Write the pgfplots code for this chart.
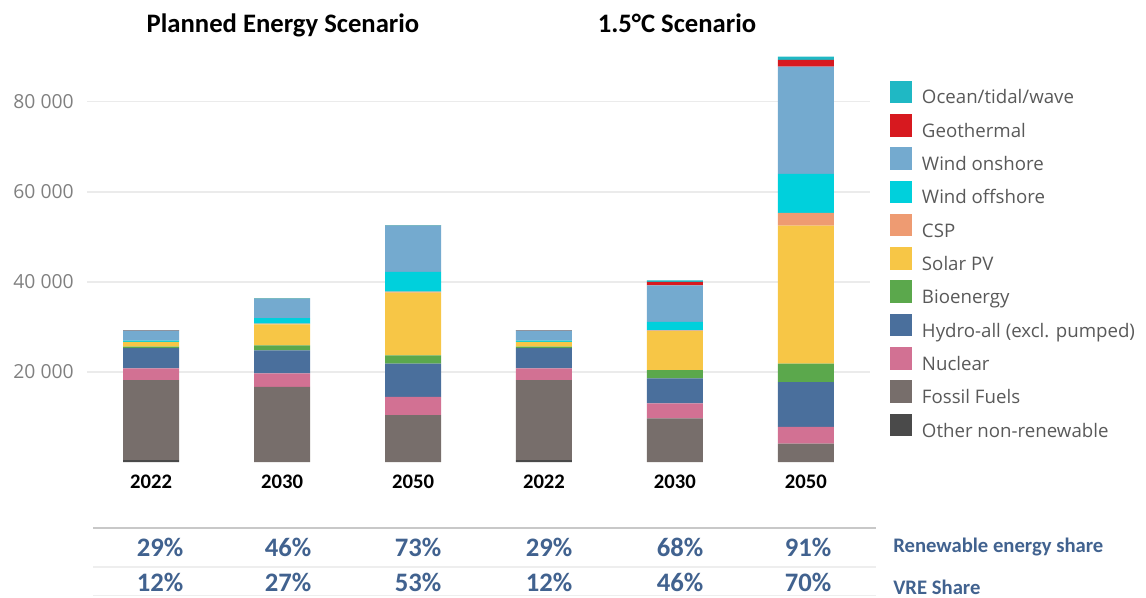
\documentclass[border=0pt]{standalone}
\usepackage{pgfplots}
\pgfplotsset{compat=1.18}
\usepackage{pgfplotstable}
\usepackage{fontspec}
\setmainfont{Open Sans}
\newfontfamily\carlito{Carlito}

\definecolor{cocean}{HTML}{1FB8C4}
\definecolor{cgeo}{HTML}{D7191F}
\definecolor{conshore}{HTML}{74AACF}
\definecolor{coffshore}{HTML}{00D0DC}
\definecolor{ccsp}{HTML}{EE9B72}
\definecolor{csolar}{HTML}{F7C646}
\definecolor{cbio}{HTML}{5BA84C}
\definecolor{chydro}{HTML}{4A6F9C}
\definecolor{cnuclear}{HTML}{D27193}
\definecolor{cfossil}{HTML}{776E6B}
\definecolor{cother}{HTML}{4A4A4A}
\definecolor{gridgray}{HTML}{EBEBEB}
\definecolor{tickgray}{HTML}{808080}
\definecolor{legtext}{HTML}{595959}
\definecolor{pctblue}{HTML}{41628F}
\definecolor{linegray}{HTML}{C8C8C8}
\definecolor{faintgray}{HTML}{EEEEEE}

\pgfplotstableread{
x other fossil nuclear hydro bio solar csp offshore onshore geo ocean
0 400 17800 2600 4500 300 1050 0 300 2150 50 150
1 0 16700 2950 5150 1100 4650 150 1250 4200 50 100
2 0 10400 4050 7400 1850 13900 200 4400 10200 50 100
3 400 17800 2600 4500 300 1050 0 300 2150 50 150
4 0 9700 3300 5550 1850 8650 200 1850 8100 800 300
5 0 4100 3700 9950 4100 30650 2800 8650 23850 1500 700
}\energydata

\newcommand{\legrow}[3]{%
  \fill[#2] (889.5,{516.3-33.3*#1}) rectangle (912.3,{493.7-33.3*#1});
  \node[anchor=base west, inner sep=0pt, text=legtext, font=\fontsize{14}{16}\selectfont] at (921.7,{493-33.3*#1}) {#3};}

\begin{document}
\begin{tikzpicture}
\begin{scope}[x=0.75pt,y=0.75pt]
\useasboundingbox (0,0) rectangle (1146,597);
\end{scope}
\begin{axis}[
  at={(65.25pt,101.25pt)}, anchor=south west,
  scale only axis, width=587.25pt, height=310.8pt,
  xmin=-0.49, xmax=5.49, ymin=0, ymax=92000,
  ybar stacked, bar width=42pt,
  axis line style={draw=none}, major tick length=0pt,
  scaled y ticks=false,
  ymajorgrids, grid style={color=gridgray, line width=1.2pt},
  ytick={20000,40000,60000,80000},
  yticklabels={20 000,40 000,60 000,80 000},
  yticklabel style={anchor=east, inner sep=0pt, xshift=-9.75pt, text=tickgray, font=\fontsize{14.5}{16}\selectfont},
  xtick={0,1,2,3,4,5},
  xticklabels={2022,2030,2050,2022,2030,2050},
  xticklabel style={anchor=base, inner sep=0pt, yshift=-19.5pt, font=\carlito\bfseries\fontsize{15.5}{18}\selectfont},
  every axis plot/.append style={draw=none},
]
\addplot[fill=cother] table[x=x,y=other]{\energydata};
\addplot[fill=cfossil] table[x=x,y=fossil]{\energydata};
\addplot[fill=cnuclear] table[x=x,y=nuclear]{\energydata};
\addplot[fill=chydro] table[x=x,y=hydro]{\energydata};
\addplot[fill=cbio] table[x=x,y=bio]{\energydata};
\addplot[fill=csolar] table[x=x,y=solar]{\energydata};
\addplot[fill=ccsp] table[x=x,y=csp]{\energydata};
\addplot[fill=coffshore] table[x=x,y=offshore]{\energydata};
\addplot[fill=conshore] table[x=x,y=onshore]{\energydata};
\addplot[fill=cgeo] table[x=x,y=geo]{\energydata};
\addplot[fill=cocean] table[x=x,y=ocean]{\energydata};
\end{axis}

\begin{scope}[x=0.75pt,y=0.75pt]
% titles
\node[anchor=base, inner sep=0pt, font=\carlito\bfseries\fontsize{20}{24}\selectfont] at (283,564) {Planned Energy Scenario};
\node[anchor=base, inner sep=0pt, font=\carlito\bfseries\fontsize{20}{24}\selectfont] at (677,564) {1.5°C Scenario};

% legend
\legrow{0}{cocean}{Ocean/tidal/wave}
\legrow{1}{cgeo}{Geothermal}
\legrow{2}{conshore}{Wind onshore}
\legrow{3}{coffshore}{Wind offshore}
\legrow{4}{ccsp}{CSP}
\legrow{5}{csolar}{Solar PV}
\legrow{6}{cbio}{Bioenergy}
\legrow{7}{chydro}{Hydro-all (excl. pumped)}
\legrow{8}{cnuclear}{Nuclear}
\legrow{9}{cfossil}{Fossil Fuels}
\legrow{10}{cother}{Other non-renewable}

% bottom table
\draw[line width=1.1pt, color=linegray] (93,69) -- (876,69);
\draw[line width=0.9pt, color=faintgray] (93,30) -- (876,30);
\draw[line width=1pt, color=faintgray] (93,1.2) -- (876,1.2);
\foreach \xx/\a/\b in {160/29/12, 288/46/27, 418/73/53, 549/29/12, 680/68/46, 808/91/70}{
  \node[anchor=base, inner sep=0pt, text=pctblue, font=\carlito\bfseries\fontsize{20}{24}\selectfont] at (\xx,41) {\a\%};
  \node[anchor=base, inner sep=0pt, text=pctblue, font=\carlito\bfseries\fontsize{20}{24}\selectfont] at (\xx,6) {\b\%};
}
\node[anchor=base west, inner sep=0pt, text=pctblue, font=\carlito\bfseries\fontsize{15.5}{18}\selectfont] at (893,45) {Renewable energy share};
\node[anchor=base west, inner sep=0pt, text=pctblue, font=\carlito\bfseries\fontsize{15.5}{18}\selectfont] at (893,3) {VRE Share};
\end{scope}
\end{tikzpicture}
\end{document}
